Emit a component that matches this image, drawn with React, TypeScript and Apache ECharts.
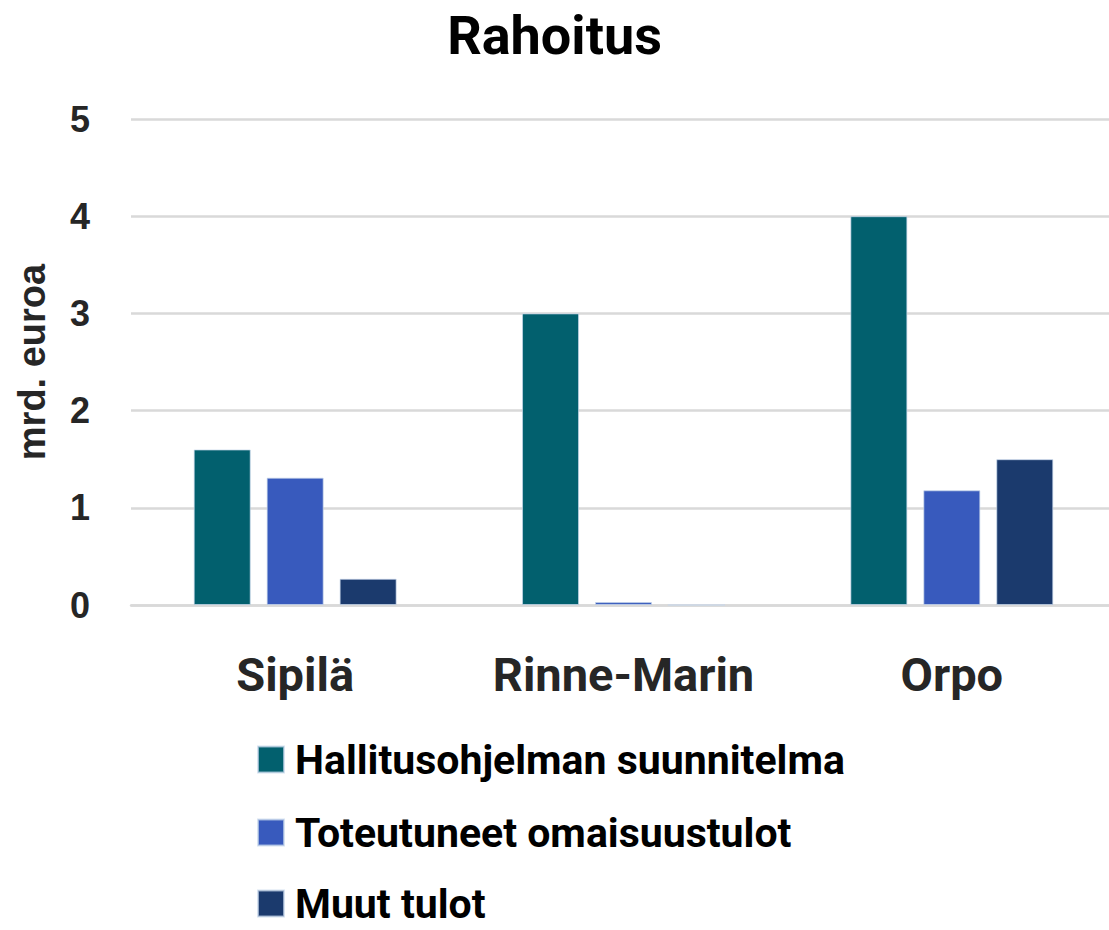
import React, { useEffect, useRef } from "react";
import * as echarts from "echarts";

const categories = ["Sipilä", "Rinne-Marin", "Orpo"];
const seriesNames = ["Hallitusohjelman suunnitelma", "Toteutuneet omaisuustulot", "Muut tulot"];
const planValues = [1.6, 3.0, 4.0];
const assetValues = [1.31, 0.03, 1.18];
const otherValues = [0.27, 0, 1.5];
const yTicks = [0, 1, 2, 3, 4, 5];
const colors = ["#02606E", "#385ABD", "#1B3A6D"];
const legendCenters = [760, 833, 904];

export default function App() {
  const ref = useRef<HTMLDivElement>(null);
  useEffect(() => {
    if (!ref.current) return;
    const chart = echarts.init(ref.current, null, { renderer: "svg" });
    const data = [planValues, assetValues, otherValues];
    chart.setOption({
      animation: false,
      backgroundColor: "#ffffff",
      title: {
        text: "Rahoitus",
        left: "center",
        top: 3,
        textStyle: { fontFamily: "Roboto", fontWeight: "bold", fontSize: 54, color: "#000" },
      },
      legend: seriesNames.map((name, i) => ({
        orient: "horizontal",
        left: 257,
        top: legendCenters[i] - 21,
        padding: 0,
        itemWidth: 26,
        itemHeight: 26,
        icon: "rect",
        data: [name],
        textStyle: {
          fontFamily: "Roboto",
          fontWeight: "bold",
          fontSize: 41,
          color: "#000",
          lineHeight: 26,
          padding: [0, 0, 0, 6],
        },
      })),
      grid: {
        left: 131,
        top: 119,
        width: 985,
        bottom: 325,
        containLabel: false,
        outerBoundsMode: "none",
      },
      xAxis: {
        type: "category",
        data: categories,
        axisTick: { show: false },
        axisLine: { show: true, lineStyle: { color: "#d9d9d9", width: 2.5 } },
        axisLabel: {
          interval: 0,
          hideOverlap: false,
          margin: 46,
          fontFamily: "Roboto",
          fontWeight: "bold",
          fontSize: 47,
          color: "#262626",
        },
      },
      yAxis: {
        type: "value",
        min: yTicks[0],
        max: yTicks[yTicks.length - 1],
        interval: 1,
        name: "mrd. euroa",
        nameLocation: "middle",
        nameGap: 80,
        nameTextStyle: {
          fontFamily: "Liberation Sans",
          fontWeight: "bold",
          fontSize: 38,
          color: "#262626",
        },
        axisLine: { show: false },
        axisTick: { show: false },
        splitLine: { lineStyle: { color: "#d9d9d9", width: 2.5 } },
        axisLabel: {
          margin: 41,
          fontFamily: "Liberation Sans",
          fontWeight: "bold",
          fontSize: 36,
          color: "#262626",
        },
      },
      series: seriesNames.map((name, i) => ({
        name,
        type: "bar",
        data: data[i],
        barWidth: 57,
        barGap: "28%",
        itemStyle: {
          color: colors[i],
          borderColor: "rgba(200,215,235,0.7)",
          borderWidth: 1,
        },
      })),
    });
    return () => chart.dispose();
  }, []);
  return (
    <div
      ref={ref}
      style={{ position: "fixed", left: 0, top: 0, width: 1109, height: 930 }}
    />
  );
}
